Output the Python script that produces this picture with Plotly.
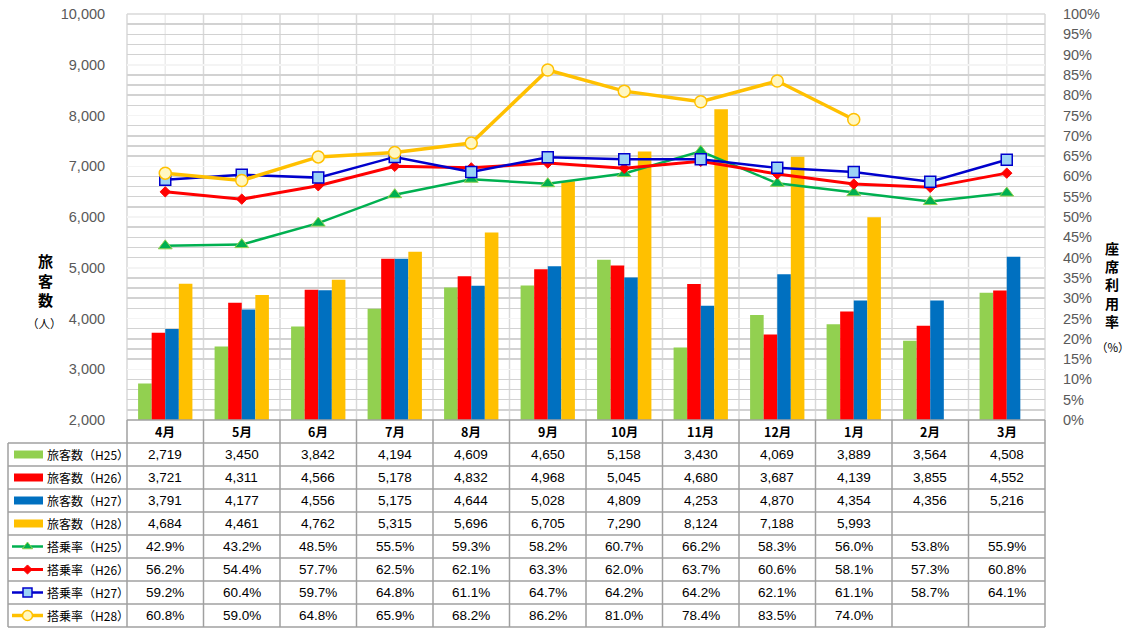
import plotly.graph_objects as go

# ---------------- data ----------------
months = ['4月', '5月', '6月', '7月', '8月', '9月', '10月', '11月', '12月', '1月', '2月', '3月']

pax_h25 = [2719, 3450, 3842, 4194, 4609, 4650, 5158, 3430, 4069, 3889, 3564, 4508]
pax_h26 = [3721, 4311, 4566, 5178, 4832, 4968, 5045, 4680, 3687, 4139, 3855, 4552]
pax_h27 = [3791, 4177, 4556, 5175, 4644, 5028, 4809, 4253, 4870, 4354, 4356, 5216]
pax_h28 = [4684, 4461, 4762, 5315, 5696, 6705, 7290, 8124, 7188, 5993, None, None]

rate_h25 = [42.9, 43.2, 48.5, 55.5, 59.3, 58.2, 60.7, 66.2, 58.3, 56.0, 53.8, 55.9]
rate_h26 = [56.2, 54.4, 57.7, 62.5, 62.1, 63.3, 62.0, 63.7, 60.6, 58.1, 57.3, 60.8]
rate_h27 = [59.2, 60.4, 59.7, 64.8, 61.1, 64.7, 64.2, 64.2, 62.1, 61.1, 58.7, 64.1]
rate_h28 = [60.8, 59.0, 64.8, 65.9, 68.2, 86.2, 81.0, 78.4, 83.5, 74.0, None, None]

bar_names = ['旅客数（H25）', '旅客数（H26）', '旅客数（H27）', '旅客数（H28）']
line_names = ['搭乗率（H25）', '搭乗率（H26）', '搭乗率（H27）', '搭乗率（H28）']

left_title = '旅客数'
left_unit = '（人）'
right_title = '座席利用率'
right_unit = '（%）'

# ---------------- styles ----------------
W, H = 1132, 628
PL, PR, PT, PB = 127, 1045, 14, 420      # plot area in pixels
ROW_H = 23.0
TABLE_LEFT = 8
NUM_FONT = 'Liberation Sans, Arial, sans-serif'
JP_FONT = 'Noto Sans CJK JP, sans-serif'

bar_colors = ['#92D050', '#FF0000', '#0070C0', '#FFC000']
line_styles = [
    dict(color='#00B050', width=2.5, symbol='triangle-up', size=12, lsize=9, mfill='#00B050', mline='#92D050', mlw=1),
    dict(color='#FF0000', width=3, symbol='diamond', size=8, lsize=7, mfill='#FF0000', mline='#FF0000', mlw=1),
    dict(color='#0000CC', width=2.5, symbol='square', size=11, lsize=9, mfill='#9BD3F5', mline='#0000CC', mlw=1.5),
    dict(color='#FFC000', width=3.5, symbol='circle', size=12, lsize=10, mfill='#FFF7C2', mline='#FFC000', mlw=1.5),
]


def px(x):
    return x / W


def py(y):
    return 1 - y / H


n = len(months)
cat_w = (PR - PL) / n
idx = list(range(n))

fig = go.Figure()

pax = [pax_h25, pax_h26, pax_h27, pax_h28]
rates = [rate_h25, rate_h26, rate_h27, rate_h28]

for name, vals, col in zip(bar_names, pax, bar_colors):
    fig.add_trace(go.Bar(x=idx, y=vals, name=name, marker=dict(color=col, line=dict(width=0)),
                         showlegend=False, xaxis='x', yaxis='y'))

for name, vals, st in zip(line_names, rates, line_styles):
    fig.add_trace(go.Scatter(
        x=idx, y=vals, name=name, mode='lines+markers', showlegend=False,
        xaxis='x', yaxis='y2',
        line=dict(color=st['color'], width=st['width']),
        marker=dict(symbol=st['symbol'], size=st['size'], color=st['mfill'],
                    line=dict(color=st['mline'], width=st['mlw']))))

shapes = []
annotations = []

# vertical gridlines inside plot (category centres lighter, boundaries darker)
for k in range(n + 1):
    xb = PL + k * cat_w
    shapes.append(dict(type='line', xref='paper', yref='paper', x0=px(xb), x1=px(xb),
                       y0=py(PT), y1=py(PB), line=dict(color='#D9D9D9', width=1.5), layer='below'))
for k in range(n):
    xc = PL + (k + 0.5) * cat_w
    shapes.append(dict(type='line', xref='paper', yref='paper', x0=px(xc), x1=px(xc),
                       y0=py(PT), y1=py(PB), line=dict(color='#ECECEC', width=1.5), layer='below'))
# top edge of plot area
shapes.append(dict(type='line', xref='paper', yref='paper', x0=px(PL), x1=px(PR),
                   y0=py(PT), y1=py(PT), line=dict(color='#D9D9D9', width=1.5), layer='below'))

# ---------------- table ----------------
tcol = '#A0A0A0'
n_rows = len(bar_names) + len(line_names)
table_bottom = PB + ROW_H * (n_rows + 1)
# top line (axis line)
shapes.append(dict(type='line', xref='paper', yref='paper', x0=px(PL), x1=px(PR),
                   y0=py(PB), y1=py(PB), line=dict(color=tcol, width=1.5)))
# column lines
for k in range(n + 1):
    xb = PL + k * cat_w
    shapes.append(dict(type='line', xref='paper', yref='paper', x0=px(xb), x1=px(xb),
                       y0=py(PB), y1=py(table_bottom), line=dict(color=tcol, width=1.5)))
shapes.append(dict(type='line', xref='paper', yref='paper', x0=px(TABLE_LEFT), x1=px(TABLE_LEFT),
                   y0=py(PB + ROW_H), y1=py(table_bottom), line=dict(color=tcol, width=1.5)))
# row lines
for r in range(1, n_rows + 2):
    yy = PB + r * ROW_H
    shapes.append(dict(type='line', xref='paper', yref='paper', x0=px(TABLE_LEFT), x1=px(PR),
                       y0=py(yy), y1=py(yy), line=dict(color=tcol, width=1.5)))

# header months
for k, m in enumerate(months):
    annotations.append(dict(xref='paper', yref='paper', x=px(PL + (k + 0.5) * cat_w), y=py(PB + ROW_H / 2),
                            text=m, showarrow=False, xanchor='center', yanchor='middle',
                            font=dict(family=JP_FONT, size=12.5, color='#000000', weight='bold')))

# rows
row_names = bar_names + line_names
row_vals = pax + rates
for r, (name, vals) in enumerate(zip(row_names, row_vals)):
    yc = PB + ROW_H * (r + 1.5)
    annotations.append(dict(xref='paper', yref='paper', x=px(45), y=py(yc), text=name,
                            showarrow=False, xanchor='left', yanchor='middle',
                            font=dict(family=JP_FONT, size=12, color='#000000')))
    for k, v in enumerate(vals):
        if v is None:
            continue
        txt = f'{v:,}' if r < 4 else f'{v:.1f}%'
        annotations.append(dict(xref='paper', yref='paper', x=px(PL + (k + 0.5) * cat_w), y=py(yc),
                                text=txt, showarrow=False, xanchor='center', yanchor='middle',
                                font=dict(family=NUM_FONT, size=13.5, color='#000000')))

# legend keys: bar swatches
for r, col in enumerate(bar_colors):
    yc = PB + ROW_H * (r + 1.5)
    shapes.append(dict(type='rect', xref='paper', yref='paper', x0=px(14), x1=px(43),
                       y0=py(yc - 4), y1=py(yc + 4), fillcolor=col, line=dict(width=0)))

# legend keys: line + marker (pixel axes x3/y3)
for r, st in enumerate(line_styles):
    yc = PB + ROW_H * (r + 5.5)
    fig.add_trace(go.Scatter(x=[12, 43], y=[yc, yc], mode='lines', xaxis='x3', yaxis='y3',
                             line=dict(color=st['color'], width=st['width']), showlegend=False,
                             hoverinfo='skip'))
    fig.add_trace(go.Scatter(x=[27.5], y=[yc], mode='markers', xaxis='x3', yaxis='y3',
                             marker=dict(symbol=st['symbol'], size=st['lsize'], color=st['mfill'],
                                         line=dict(color=st['mline'], width=st['mlw'])),
                             showlegend=False, hoverinfo='skip'))

# axis titles (vertical stacked text)
annotations.append(dict(xref='paper', yref='paper', x=px(45), y=py(280),
                        text='<b>' + '<br>'.join(left_title) + '</b>',
                        showarrow=False, xanchor='center', yanchor='middle',
                        font=dict(family=JP_FONT, size=15, color='#000000')))
annotations.append(dict(xref='paper', yref='paper', x=px(44), y=py(323), text=left_unit,
                        showarrow=False, xanchor='center', yanchor='middle',
                        font=dict(family=JP_FONT, size=11.5, color='#000000')))
annotations.append(dict(xref='paper', yref='paper', x=px(1112), y=py(284),
                        text='<b>' + '<br>'.join(right_title) + '</b>',
                        showarrow=False, xanchor='center', yanchor='middle',
                        font=dict(family=JP_FONT, size=14, color='#000000')))
annotations.append(dict(xref='paper', yref='paper', x=px(1113), y=py(347), text=right_unit,
                        showarrow=False, xanchor='center', yanchor='middle',
                        font=dict(family=JP_FONT, size=11.5, color='#000000')))

fig.update_layout(
    width=W, height=H,
    margin=dict(l=0, r=0, t=0, b=0),
    paper_bgcolor='white', plot_bgcolor='rgba(0,0,0,0)',
    barmode='group', bargap=0.29, bargroupgap=0,
    showlegend=False,
    xaxis=dict(domain=[px(PL), px(PR)], range=[-0.5, n - 0.5], showticklabels=False,
               showgrid=False, zeroline=False, showline=False, ticks='', fixedrange=True),
    yaxis=dict(domain=[py(PB), py(PT)], range=[2000, 10000], dtick=1000, tickformat=',',
               showgrid=True, gridcolor='#F4F4F4', gridwidth=1.5,
               minor=dict(dtick=200, showgrid=True, gridcolor='#D2D2D2', gridwidth=1.5),
               zeroline=False, showline=False, ticks='outside', ticklen=18,
               tickcolor='rgba(0,0,0,0)', automargin=False,
               tickfont=dict(family=NUM_FONT, size=14.5, color='#595959')),
    yaxis2=dict(overlaying='y', side='right', range=[0, 100], dtick=5, ticksuffix='%',
                showgrid=False, zeroline=False, showline=False, ticks='outside', ticklen=14,
                tickcolor='rgba(0,0,0,0)', automargin=False, anchor='x',
                tickfont=dict(family=NUM_FONT, size=14.5, color='#595959')),
    xaxis3=dict(domain=[0, 1], range=[0, W], visible=False, fixedrange=True, anchor='y3'),
    yaxis3=dict(domain=[0, 1], range=[H, 0], visible=False, fixedrange=True, anchor='x3'),
    shapes=shapes,
    annotations=annotations,
)

fig.write_html('out.html', config={'displayModeBar': False, 'staticPlot': True},
               post_script="document.body.style.margin='0px';document.body.style.overflow='hidden';")
